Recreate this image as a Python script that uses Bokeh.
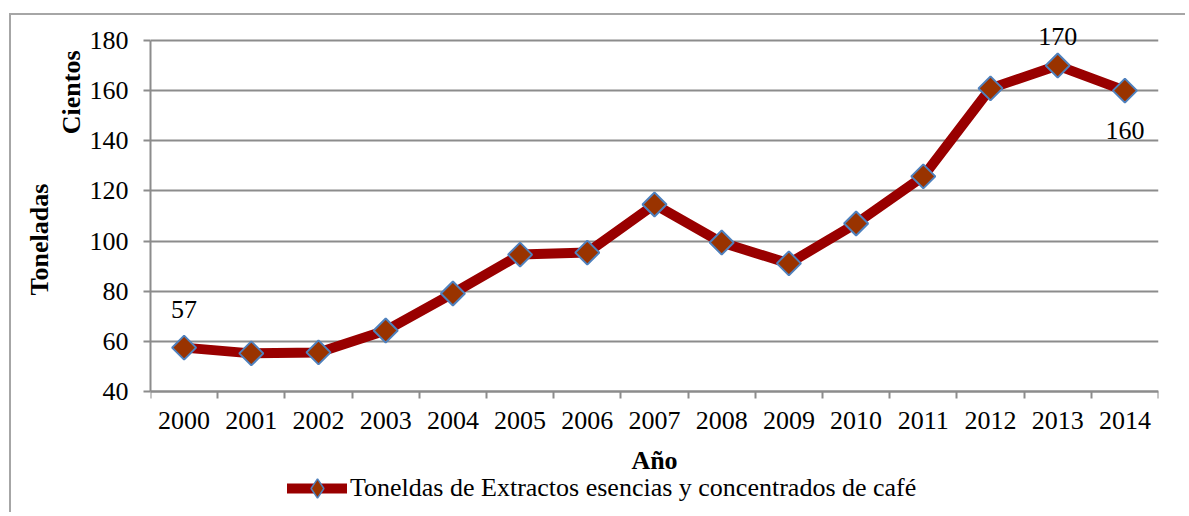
import math
from bokeh.plotting import figure
from bokeh.models import (FixedTicker, LabelSet, Legend, LegendItem, Title,
                          ColumnDataSource)
from bokeh.core.properties import value
from bokeh.embed import file_html
from bokeh.resources import INLINE

years = ["2000", "2001", "2002", "2003", "2004", "2005", "2006", "2007",
         "2008", "2009", "2010", "2011", "2012", "2013", "2014"]
toneladas = [57.5, 55.2, 55.6, 64.3, 79.1, 94.6, 95.4, 114.6,
             99.4, 91.1, 107.0, 125.8, 160.9, 170.0, 160.0]
label_years = ["2000", "2013", "2014"]
label_texts = ["57", "170", "160"]
y_ticks = [40, 60, 80, 100, 120, 140, 160, 180]
series_name = "Toneldas de Extractos esencias y concentrados de café"
x_title = "Año"
y_title = "Toneladas"
y_units_title = "Cientos"

FONT = "Liberation Serif"
GRID = "#8c8c8c"
LINE_C = "#990000"
FILL_C = "#993300"
EDGE_C = "#4f81bd"

# layout (pixels)
W, H = 1176, 499
BL, BR = 139, 29
TOP_PAD = 25                 # canvas top -> 180 gridline
PLOT_H = 351                 # height of the 40..180 band
y_lo, y_hi = y_ticks[0], y_ticks[-1]
ppu = PLOT_H / (y_hi - y_lo)
y_end = y_hi + TOP_PAD / ppu
y_start = y_lo - (H - TOP_PAD - PLOT_H) / ppu

idx = list(range(len(years)))
src = ColumnDataSource(dict(x=idx, y=toneladas))
lab_idx = [years.index(yr) for yr in label_years]
lab_src = ColumnDataSource(dict(
    x=lab_idx, y=[toneladas[i] for i in lab_idx], t=label_texts,
    dy=[38, 29, -40]))

p = figure(width=W, height=H, output_backend="svg", toolbar_location=None,
           x_range=(-0.5, len(years) - 0.5), y_range=(y_start, y_end),
           min_border_left=BL, min_border_right=BR, min_border_top=0,
           min_border_bottom=0, margin=(13, 0, 0, 9),
           styles={"border-left": "2px solid #a6a6a6", "border-top": "2px solid #a6a6a6"})
p.outline_line_color = None
p.background_fill_color = "white"
p.border_fill_color = "white"

line_r = p.line("x", "y", source=src, line_color=LINE_C, line_width=10,
                line_join="round", line_cap="round")
mark_r = p.scatter("x", "y", source=src, marker="square", size=17, angle=math.pi / 4,
                   fill_color=FILL_C, line_color=EDGE_C, line_width=2)
legend_mark = p.scatter(x=[float("nan")], y=[float("nan")], marker="diamond", size=17,
                        fill_color=FILL_C, line_color=EDGE_C, line_width=1.5)
p.add_layout(LabelSet(x="x", y="y", text="t", source=lab_src, y_offset="dy",
                      text_align="center", text_baseline="middle",
                      text_font=value(FONT), text_font_size="26px", text_color="black"))

# x axis, drawn at y = 40 inside the frame
xa = p.xaxis[0]
xa.fixed_location = y_lo
xa.ticker = FixedTicker(ticks=idx, minor_ticks=[i - 0.5 for i in range(len(years) + 1)])
xa.major_label_overrides = {i: y for i, y in enumerate(years)}
xa.major_tick_out = 0
xa.major_tick_in = 0
xa.minor_tick_out = 7
xa.minor_tick_in = 0
xa.minor_tick_line_color = GRID
xa.minor_tick_line_width = 2
xa.axis_line_color = GRID
xa.axis_line_width = 2
xa.major_label_text_font = FONT
xa.major_label_text_font_size = "26px"
xa.major_label_text_color = "black"
xa.major_label_standoff = 13
xa.axis_label = x_title
xa.axis_label_text_font = FONT
xa.axis_label_text_font_size = "26px"
xa.axis_label_text_font_style = "bold"
xa.axis_label_text_color = "black"
xa.axis_label_standoff = 14

# y axis
ya = p.yaxis[0]
ya.bounds = (y_lo, y_hi)
ya.ticker = FixedTicker(ticks=y_ticks)
ya.major_tick_out = 7
ya.major_tick_in = 0
ya.minor_tick_out = 0
ya.minor_tick_in = 0
ya.major_tick_line_color = GRID
ya.major_tick_line_width = 2
ya.axis_line_color = GRID
ya.axis_line_width = 2
ya.major_label_text_font = FONT
ya.major_label_text_font_size = "26px"
ya.major_label_text_color = "black"
ya.major_label_standoff = 15

p.xgrid.visible = False
p.ygrid.ticker = FixedTicker(ticks=y_ticks)
p.ygrid.grid_line_color = GRID
p.ygrid.grid_line_width = 2

# y titles as side-panel titles (not clipped by the frame)
p.add_layout(Title(text=y_units_title, align="right", offset=35, standoff=2,
                   text_font=FONT, text_font_size="26px", text_font_style="bold",
                   text_color="black"), "left")
p.add_layout(Title(text=y_title, align="left", offset=219, standoff=0,
                   text_font=FONT, text_font_size="26px", text_font_style="bold",
                   text_color="black"), "left")

legend = Legend(items=[LegendItem(label=series_name, renderers=[line_r, legend_mark])],
                location=(137, 2), orientation="horizontal",
                glyph_width=60, glyph_height=48, label_standoff=3, padding=0, margin=0,
                border_line_color=None, background_fill_alpha=0,
                label_text_font=FONT, label_text_font_size="26px",
                label_text_color="black")
p.add_layout(legend, "center")

open("out.html", "w").write(file_html(p, INLINE))
